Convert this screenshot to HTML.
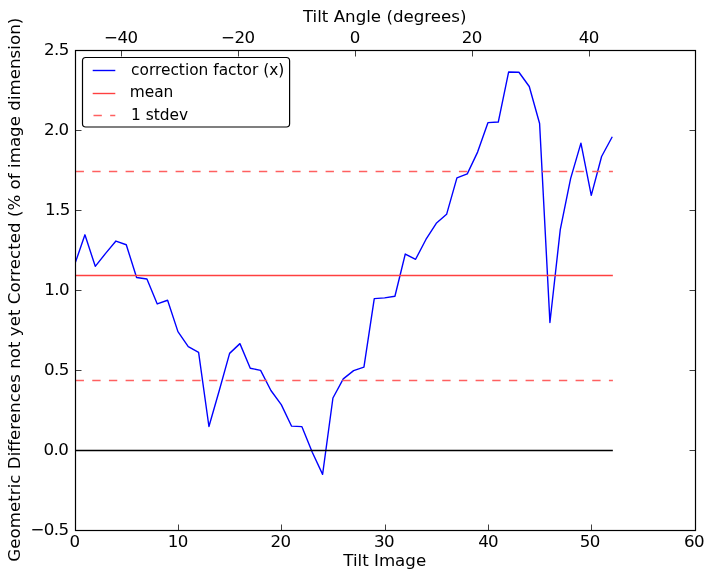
<!DOCTYPE html>
<html lang="en"><head><meta charset="utf-8"><title>Tilt correction plot</title>
<style>
html,body{margin:0;padding:0;background:#fff;}
body{width:714px;height:579px;overflow:hidden;}
svg{display:block;font-family:"DejaVu Sans","Liberation Sans",sans-serif;font-size:16.667px;fill:#000;}
</style></head><body>
<svg width="714" height="579" viewBox="0 0 714 579">
<rect x="0" y="0" width="714" height="579" fill="#fff"/>
<defs><clipPath id="ax"><rect x="75" y="50" width="620" height="480"/></clipPath></defs><g clip-path="url(#ax)">
<polyline points="74.60,264.74 84.93,234.82 95.27,266.34 105.60,253.38 115.93,241.06 126.27,244.74 136.60,277.54 146.93,278.98 157.27,303.94 167.60,300.26 177.93,331.62 188.27,346.66 198.60,352.42 208.93,426.50 219.27,390.50 229.60,353.38 239.93,343.62 250.27,368.26 260.60,370.34 270.93,390.50 281.27,404.58 291.60,426.18 301.93,426.66 312.27,452.26 322.60,474.34 332.93,398.02 343.27,378.90 353.60,370.66 363.93,367.20 374.27,298.66 384.60,297.86 394.93,296.26 405.27,254.02 415.60,259.30 425.93,239.46 436.27,223.30 446.60,214.34 456.93,177.86 467.27,173.86 477.60,152.10 487.93,122.66 498.27,122.02 508.60,72.02 518.93,72.26 529.27,86.50 539.60,123.46 549.93,322.50 560.27,229.70 570.60,178.66 580.93,143.14 591.27,195.38 601.60,156.50 611.93,137.38" fill="none" stroke="#0000ff" stroke-width="1.39" stroke-linejoin="round" stroke-linecap="square"/>
<line x1="74.60" y1="275.5" x2="612.15" y2="275.5" stroke="#ff4040" stroke-width="1.39" stroke-linecap="square"/>
<line x1="75.60" y1="171.5" x2="612.90" y2="171.5" stroke="#ff6060" stroke-width="1.3" stroke-dasharray="8.333 8.333"/>
<line x1="75.60" y1="380.5" x2="612.90" y2="380.5" stroke="#ff6060" stroke-width="1.3" stroke-dasharray="8.333 8.333"/>
<line x1="74.60" y1="450.5" x2="612.15" y2="450.5" stroke="#000" stroke-width="1.39" stroke-linecap="square"/>
</g>
<rect x="75.5" y="50.5" width="620" height="480" fill="none" stroke="#000" stroke-width="1.2"/>
<path d="M178.50 530.50v-6.00M281.50 530.50v-6.00M385.50 530.50v-6.00M488.50 530.50v-6.00M591.50 530.50v-6.00M75.50 450.50h6.00M695.50 450.50h-6.00M75.50 370.50h6.00M695.50 370.50h-6.00M75.50 290.50h6.00M695.50 290.50h-6.00M75.50 210.50h6.00M695.50 210.50h-6.00M75.50 130.50h6.00M695.50 130.50h-6.00M121.50 50.50v6.00M238.50 50.50v6.00M355.50 50.50v6.00M472.50 50.50v6.00M589.50 50.50v6.00" fill="none" stroke="#000" stroke-width="0.75"/>
<g letter-spacing="-0.6">
<text x="74.45" y="547" text-anchor="middle">0</text>
<text x="177.73" y="547" text-anchor="middle">10</text>
<text x="280.57" y="547" text-anchor="middle">20</text>
<text x="384.10" y="547" text-anchor="middle">30</text>
<text x="488.13" y="547" text-anchor="middle">40</text>
<text x="589.87" y="547" text-anchor="middle">50</text>
<text x="693.90" y="547" text-anchor="middle">60</text>
<text x="68.50" y="535.20" text-anchor="end">−0.5</text>
<text x="68.20" y="455.20" text-anchor="end">0.0</text>
<text x="68.70" y="375.20" text-anchor="end">0.5</text>
<text x="69.00" y="295.20" text-anchor="end">1.0</text>
<text x="69.70" y="215.20" text-anchor="end">1.5</text>
<text x="68.60" y="135.20" text-anchor="end">2.0</text>
<text x="68.70" y="55.20" text-anchor="end">2.5</text>
<text x="120.80" y="42.7" text-anchor="middle">−40</text>
<text x="237.80" y="42.7" text-anchor="middle">−20</text>
<text x="354.80" y="42.7" text-anchor="middle">0</text>
<text x="471.80" y="42.7" text-anchor="middle">20</text>
<text x="588.80" y="42.7" text-anchor="middle">40</text>
</g>
<text x="384.7" y="22.3" text-anchor="middle">Tilt Angle (degrees)</text>
<text x="384.7" y="566" text-anchor="middle">Tilt Image</text>
<text transform="translate(19.5,289.7) rotate(-90)" text-anchor="middle" letter-spacing="0.02">Geometric Differences not yet Corrected (% of image dimension)</text>
<rect x="82.5" y="57.5" width="207.1" height="69.5" rx="3.2" ry="3.2" fill="#fff" stroke="#000" stroke-width="1.2"/>
<line x1="92.7" y1="70.5" x2="115.3" y2="70.5" stroke="#0000ff" stroke-width="1.39"/>
<line x1="92.7" y1="93.5" x2="115.3" y2="93.5" stroke="#ff4040" stroke-width="1.39"/>
<line x1="93.5" y1="115.5" x2="115.3" y2="115.5" stroke="#ff6060" stroke-width="1.3" stroke-dasharray="8.333 8.333"/>
<text x="131" y="74.8" font-size="15.4">correction factor (x)</text>
<text x="129.7" y="96.5" font-size="15.4">mean</text>
<text x="131" y="119.8" font-size="15.4">1 stdev</text>
</svg></body></html>
